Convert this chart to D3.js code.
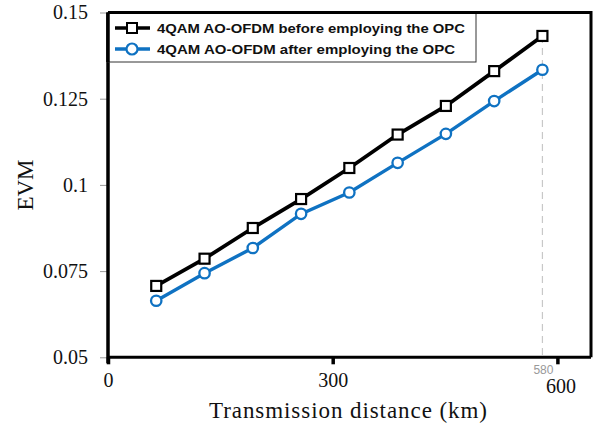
<!DOCTYPE html>
<html>
<head>
<meta charset="utf-8">
<script src="https://cdn.jsdelivr.net/npm/d3@7"></script>
<style>
  html, body { margin: 0; padding: 0; background: #fff; }
  svg { display: block; }
</style>
</head>
<body>
<svg id="chart" width="599" height="429"></svg>
<script>
// ---- data ----
const distances = [64.4, 128.9, 193.3, 257.8, 322.2, 386.7, 451.1, 515.6, 580];
const evmBefore = [0.0707, 0.0786, 0.0875, 0.0959, 0.1049, 0.1146, 0.1229, 0.1330, 0.1432];
const evmAfter  = [0.0664, 0.0744, 0.0817, 0.0916, 0.0978, 0.1064, 0.1148, 0.1243, 0.1334];
const seriesNames = ["4QAM AO-OFDM before employing the OPC", "4QAM AO-OFDM after employing the OPC"];
const yTicks = [0.05, 0.075, 0.1, 0.125, 0.15];
const yTickLabels = ["0.05", "0.075", "0.1", "0.125", "0.15"];
const xTicks = [0, 300, 600];
const markedDistance = 580;

// ---- layout ----
const svg = d3.select("#chart");
const pLeft = 108, pTop = 12.5, pBottom = 357.3, frameRight = 591;
const x = d3.scaleLinear().domain([0, 600]).range([pLeft, 557.4]);
const y = d3.scaleLinear().domain([0.05, 0.15]).range([pBottom, pTop]);
const blue = "#0f72c2";
const serif = "Liberation Serif, Times New Roman, serif";

// frame (top/right)
svg.append("path")
  .attr("d", `M${pLeft},${pTop} H${frameRight} V${pBottom}`)
  .attr("fill", "none").attr("stroke", "#000").attr("stroke-width", 3);

// y axis
const yAxis = d3.axisLeft(y).tickValues(yTicks).tickSize(8).tickPadding(12)
  .tickFormat((d, i) => yTickLabels[i]);
const gy = svg.append("g").attr("transform", `translate(${pLeft},0)`).call(yAxis);
gy.select(".domain").remove();
gy.selectAll(".tick line").attr("stroke", "#999").attr("stroke-width", 1);
gy.selectAll(".tick text").attr("font-family", serif)
  .attr("font-size", 20).attr("fill", "#111");

// x axis
const xAxis = d3.axisBottom(x).tickValues(xTicks).tickSize(7).tickPadding(9).tickFormat(d3.format("d"));
const gx = svg.append("g").attr("transform", `translate(0,${pBottom})`).call(xAxis);
gx.select(".domain").remove();
gx.selectAll(".tick line").attr("stroke", "#000").attr("stroke-width", 3.5);
gx.selectAll(".tick text").attr("font-family", serif)
  .attr("font-size", 20).attr("fill", "#111");
gx.selectAll(".tick").filter(d => d === 600).select("text").attr("dy", "0.97em").attr("dx", 3);

// axis lines
svg.append("line").attr("x1", pLeft).attr("x2", pLeft).attr("y1", pTop).attr("y2", pBottom + 6)
  .attr("stroke", "#000").attr("stroke-width", 3.5);
svg.append("line").attr("x1", pLeft).attr("x2", frameRight).attr("y1", pBottom).attr("y2", pBottom)
  .attr("stroke", "#000").attr("stroke-width", 3);

// dashed guide at 580
const iLast = distances.indexOf(markedDistance);
svg.append("line")
  .attr("x1", x(markedDistance)).attr("x2", x(markedDistance))
  .attr("y1", y(evmBefore[iLast])).attr("y2", pBottom)
  .attr("stroke", "#c8c8c8").attr("stroke-width", 1.2).attr("stroke-dasharray", "7,5");
svg.append("text").attr("x", x(markedDistance) + 1).attr("y", pBottom + 17)
  .attr("text-anchor", "middle").attr("font-family", "Liberation Sans, Arial, sans-serif")
  .attr("font-size", 12).attr("fill", "#999").text(markedDistance);

// series lines
const line = d3.line();
const ptsBefore = distances.map((d, i) => [x(d), y(evmBefore[i])]);
const ptsAfter = distances.map((d, i) => [x(d), y(evmAfter[i])]);
svg.append("path").attr("d", line(ptsBefore)).attr("fill", "none").attr("stroke", "#000").attr("stroke-width", 3.8);
svg.append("path").attr("d", line(ptsAfter)).attr("fill", "none").attr("stroke", blue).attr("stroke-width", 3.4);

// markers
const sq = 10;
svg.append("g").selectAll("rect").data(ptsBefore).join("rect")
  .attr("x", d => d[0] - sq / 2).attr("y", d => d[1] - sq / 2)
  .attr("width", sq).attr("height", sq)
  .attr("fill", "#fff").attr("stroke", "#000").attr("stroke-width", 2.2);
svg.append("g").selectAll("circle").data(ptsAfter).join("circle")
  .attr("cx", d => d[0]).attr("cy", d => d[1]).attr("r", 5.2)
  .attr("fill", "#fff").attr("stroke", blue).attr("stroke-width", 2.3);

// legend
const lg = svg.append("g");
lg.append("rect").attr("x", pLeft).attr("y", pTop).attr("width", 476 - pLeft).attr("height", 62 - pTop)
  .attr("fill", "#fff").attr("stroke", "#333").attr("stroke-width", 1);
svg.append("path")
  .attr("d", `M${pLeft},${pTop} H${frameRight}`)
  .attr("fill", "none").attr("stroke", "#000").attr("stroke-width", 3);
svg.append("line").attr("x1", pLeft).attr("x2", pLeft).attr("y1", pTop).attr("y2", 62)
  .attr("stroke", "#000").attr("stroke-width", 3.5);
const rows = [28, 49];
const colors = ["#000", blue];
rows.forEach((ry, i) => {
  lg.append("line").attr("x1", 115).attr("x2", 150).attr("y1", ry).attr("y2", ry)
    .attr("stroke", colors[i]).attr("stroke-width", 3.5);
  if (i === 0) {
    lg.append("rect").attr("x", 132 - 5).attr("y", ry - 5).attr("width", 10).attr("height", 10)
      .attr("fill", "#fff").attr("stroke", "#000").attr("stroke-width", 2);
  } else {
    lg.append("circle").attr("cx", 132).attr("cy", ry).attr("r", 5.5)
      .attr("fill", "#fff").attr("stroke", blue).attr("stroke-width", 2.2);
  }
  lg.append("text").attr("x", 157).attr("y", ry + 5)
    .attr("font-family", "Liberation Sans, Arial, sans-serif").attr("font-weight", "bold")
    .attr("font-size", 13).attr("fill", "#111")
    .attr("textLength", i === 0 ? 308 : 298).attr("lengthAdjust", "spacingAndGlyphs")
    .text(seriesNames[i]);
});

// axis titles
svg.append("text").attr("transform", `translate(33,185) rotate(-90)`)
  .attr("text-anchor", "middle").attr("font-family", serif)
  .attr("font-size", 23).attr("fill", "#111").text("EVM");
svg.append("text").attr("x", 209).attr("y", 418)
  .attr("font-family", serif)
  .attr("font-size", 23).attr("fill", "#111")
  .attr("textLength", 278).attr("lengthAdjust", "spacing")
  .text("Transmission distance (km)");
</script>
</body>
</html>
